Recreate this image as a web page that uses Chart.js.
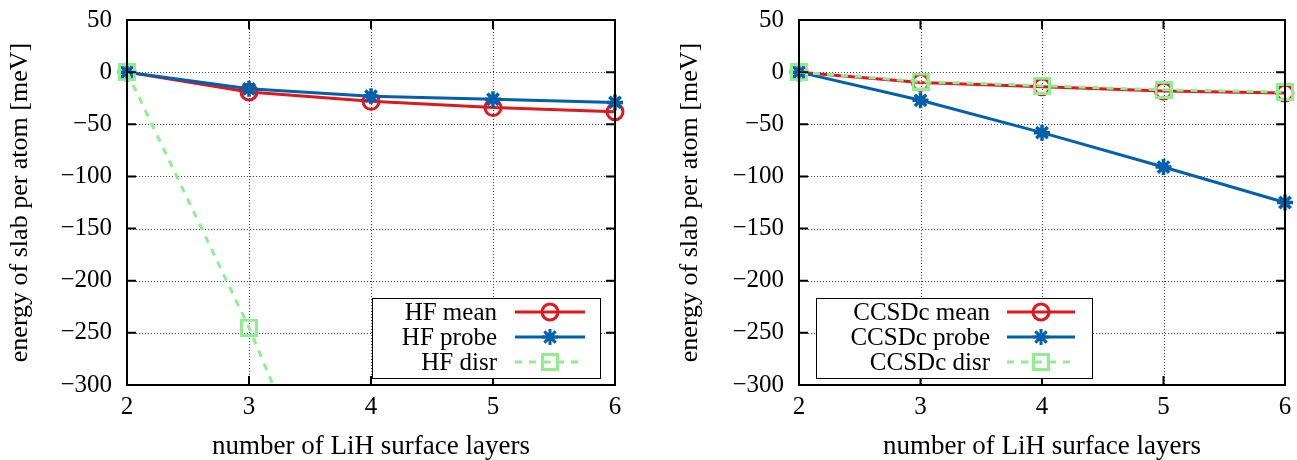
<!DOCTYPE html>
<html>
<head>
<meta charset="utf-8">
<script src="https://cdn.jsdelivr.net/npm/chart.js@4.4.1/dist/chart.umd.min.js"></script>
<style>
  body { margin: 0; background: #fff; }
  #left { position: absolute; left: 0; top: 0; }
  #right { position: absolute; left: 650px; top: 0; }
</style>
</head>
<body>
<canvas id="left" width="650" height="460"></canvas>
<canvas id="right" width="647" height="460"></canvas>
<script>
// dados
const layers = [2, 3, 4, 5, 6];
const yTicks = [-300, -250, -200, -150, -100, -50, 0, 50];

const hfMean = [0, -19, -28, -34, -38];
const hfProbe = [0, -16, -23, -26, -29];
const hfDisr = [0, -245, -525];

const ccMean = [0, -10, -14, -18, -20];
const ccProbe = [0, -27, -58, -91, -125];
const ccDisr = [0, -9, -13, -17, -19];

const RED = "#dd181f";
const BLUE = "#0060ad";
const GREEN = "#90ee90";
const FONT = "Liberation Serif";
const FSIZE = 25;

Chart.defaults.font.family = FONT;
Chart.defaults.font.size = FSIZE;
Chart.defaults.color = "#000";

function boxMarker(color) {
    const c = document.createElement("canvas");
    c.width = 18; c.height = 18;
    const g = c.getContext("2d");
    g.strokeStyle = color;
    g.lineWidth = 3;
    g.strokeRect(1.5, 1.5, 15, 15);
    g.fillStyle = color;
    g.fillRect(8, 8, 2, 2);
    return c;
}
const greenBox = boxMarker(GREEN);

function pts(vals) {
    return vals.map((v, i) => ({ x: layers[i], y: v }));
}

function minus(v) {
    return String(v).replace("-", "\u2212");
}

// ===================== FRAME, GRADE E LEGENDA =====================
function drawStar(ctx, x, y, r) {
    ctx.beginPath();
    for (let k = 0; k < 4; k++) {
        const a = k * Math.PI / 4;
        ctx.moveTo(x - r * Math.cos(a), y - r * Math.sin(a));
        ctx.lineTo(x + r * Math.cos(a), y + r * Math.sin(a));
    }
    ctx.stroke();
}

const framePlugin = {
    id: "frame",
    beforeDatasetsDraw(chart) {
        const { ctx, chartArea: a, scales: { x, y } } = chart;
        ctx.save();
        ctx.strokeStyle = "#444";
        ctx.lineWidth = 1;
        ctx.setLineDash([1, 2]);
        ctx.beginPath();
        x.ticks.forEach(t => {
            const px = Math.round(x.getPixelForValue(t.value)) + 0.5;
            if (px > a.left + 2 && px < a.right - 2) {
                ctx.moveTo(px, a.top); ctx.lineTo(px, a.bottom);
            }
        });
        y.ticks.forEach(t => {
            const py = Math.round(y.getPixelForValue(t.value)) + 0.5;
            if (py > a.top + 2 && py < a.bottom - 2) {
                ctx.moveTo(a.left, py); ctx.lineTo(a.right, py);
            }
        });
        ctx.stroke();
        ctx.restore();
    },
    afterDatasetsDraw(chart, args, opts) {
        const { ctx, chartArea: a, scales: { x, y } } = chart;
        ctx.save();
        ctx.strokeStyle = "#000";
        ctx.lineWidth = 2;
        ctx.setLineDash([]);
        ctx.beginPath();
        const tl = 9;
        x.ticks.forEach(t => {
            const px = x.getPixelForValue(t.value);
            ctx.moveTo(px, a.bottom); ctx.lineTo(px, a.bottom - tl);
            ctx.moveTo(px, a.top); ctx.lineTo(px, a.top + tl);
        });
        y.ticks.forEach(t => {
            const py = y.getPixelForValue(t.value);
            ctx.moveTo(a.left, py); ctx.lineTo(a.left + tl, py);
            ctx.moveTo(a.right, py); ctx.lineTo(a.right - tl, py);
        });
        ctx.stroke();
        ctx.strokeRect(a.left, a.top, a.right - a.left, a.bottom - a.top);

        // legenda estilo gnuplot
        const L = opts.box;
        if (L) {
            ctx.fillStyle = "#fff";
            ctx.fillRect(L.x0, L.y0, L.x1 - L.x0, L.y1 - L.y0);
            ctx.lineWidth = 1;
            ctx.strokeStyle = "#000";
            ctx.strokeRect(L.x0 + 0.5, L.y0 + 0.5, L.x1 - L.x0, L.y1 - L.y0);
            ctx.font = FSIZE + "px '" + FONT + "'";
            ctx.textAlign = "right";
            ctx.textBaseline = "middle";
            chart.data.datasets.forEach((ds, i) => {
                const ry = L.y0 + 14 + i * 25;
                ctx.fillStyle = "#000";
                ctx.fillText(ds.label, L.textRight, ry + 1);
                ctx.strokeStyle = ds.borderColor;
                ctx.lineWidth = 3;
                ctx.setLineDash(ds.borderDash || []);
                ctx.beginPath();
                ctx.moveTo(L.s0, ry); ctx.lineTo(L.s1, ry);
                ctx.stroke();
                ctx.setLineDash([]);
                const mx = (L.s0 + L.s1) / 2;
                if (ds.pointStyle === "circle") {
                    ctx.beginPath();
                    ctx.arc(mx, ry, 8, 0, 2 * Math.PI);
                    ctx.stroke();
                } else if (ds.pointStyle === "star") {
                    drawStar(ctx, mx, ry, 8);
                } else {
                    ctx.drawImage(greenBox, mx - 9, ry - 9);
                }
            });
        }
        ctx.restore();
    }
};

function makeChart(id, sets, yWidth, padRight, titlePad, box) {
    const ctx = document.getElementById(id).getContext("2d");
    return new Chart(ctx, {
        type: "line",
        data: {
            datasets: [
                {
                    label: sets[0].label, data: pts(sets[0].data),
                    borderColor: RED, backgroundColor: "#fff", borderWidth: 3,
                    pointStyle: "circle", pointRadius: 8, pointBorderWidth: 3,
                    pointBackgroundColor: "rgba(0,0,0,0)", order: 3
                },
                {
                    label: sets[1].label, data: pts(sets[1].data),
                    borderColor: BLUE, backgroundColor: BLUE, borderWidth: 3,
                    pointStyle: "star", pointRadius: 8, pointBorderWidth: 3.5, order: 2
                },
                {
                    label: sets[2].label, data: pts(sets[2].data),
                    borderColor: GREEN, backgroundColor: GREEN, borderWidth: 3,
                    borderDash: [7, 7],
                    pointStyle: greenBox, pointRadius: 9, order: 1
                }
            ]
        },
        options: {
            responsive: false,
            animation: false,
            events: [],
            layout: { padding: { left: 0, right: padRight, top: 20, bottom: 0 } },
            datasets: { line: { clip: { left: 14, right: 14, top: 14, bottom: 0 }, tension: 0 } },
            plugins: {
                legend: { display: false },
                tooltip: { enabled: false },
                frame: { box }
            },
            scales: {
                x: {
                    type: "linear", min: 2, max: 6,
                    afterBuildTicks: s => { s.ticks = layers.map(v => ({ value: v })); },
                    afterFit: s => { s.height = 75; s.paddingLeft = 0; s.paddingRight = 0; },
                    grid: { display: false, drawTicks: false },
                    border: { display: false },
                    ticks: { padding: 7, callback: v => minus(v) },
                    title: {
                        display: true, text: "number of LiH surface layers",
                        font: { size: 27, lineHeight: 1 }, padding: { top: 0, bottom: 0 }
                    }
                },
                y: {
                    min: -300, max: 50,
                    afterBuildTicks: s => { s.ticks = yTicks.map(v => ({ value: v })); },
                    afterFit: s => { s.width = yWidth; s.paddingTop = 0; s.paddingBottom = 0; },
                    grid: { display: false, drawTicks: false },
                    border: { display: false },
                    ticks: { padding: 15, callback: v => minus(v) },
                    title: {
                        display: true, text: "energy of slab per atom [meV]",
                        font: { size: 26 }, padding: { top: titlePad, bottom: 0 }
                    }
                }
            }
        },
        plugins: [framePlugin]
    });
}

makeChart("left", [
    { label: "HF mean", data: hfMean },
    { label: "HF probe", data: hfProbe },
    { label: "HF disr", data: hfDisr }
], 127, 35, 5, { x0: 372, y0: 298, x1: 600, y1: 378, textRight: 497, s0: 515, s1: 585 });

makeChart("right", [
    { label: "CCSDc mean", data: ccMean },
    { label: "CCSDc probe", data: ccProbe },
    { label: "CCSDc disr", data: ccDisr }
], 149, 8, 25, { x0: 166, y0: 298, x1: 442, y1: 378, textRight: 340, s0: 357, s1: 425 });
</script>
</body>
</html>
